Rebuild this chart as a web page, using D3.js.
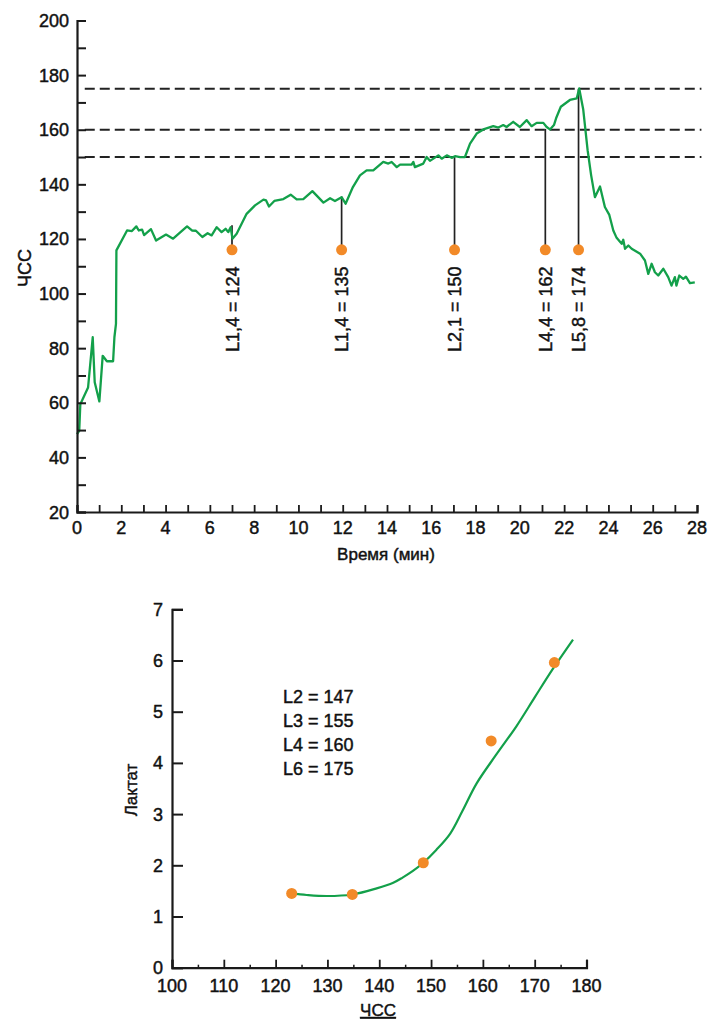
<!DOCTYPE html>
<html>
<head>
<meta charset="utf-8">
<script src="https://cdn.jsdelivr.net/npm/d3@7"></script>
<style>
  html, body { margin: 0; padding: 0; background: #ffffff; }
  svg { display: block; }
  text { font-family: "Liberation Sans", Arial, sans-serif; fill: #111; stroke: #111; stroke-width: 0.45px; }
</style>
</head>
<body>
<svg id="chart" width="710" height="1020"></svg>
<script>
// ---------- Data: top chart (heart rate vs time) ----------
const hrTime = [0,0.1,0.15,0.5,0.71,0.8,1.01,1.16,1.35,1.63,1.69,1.76,1.78,2.26,2.48,2.68,2.79,2.94,3.03,3.34,3.57,4.02,4.34,4.97,5.19,5.37,5.66,5.9,6.08,6.31,6.53,6.71,6.83,6.94,7.02,7.21,7.66,8.04,8.42,8.54,8.67,8.91,9.32,9.65,9.92,10.22,10.63,11.13,11.43,11.65,11.95,12.13,12.46,12.78,13.08,13.38,13.83,14.06,14.21,14.44,14.59,15.11,15.19,15.26,15.64,15.79,15.94,16.32,16.47,16.7,16.92,17.07,17.3,17.52,17.75,18.05,18.35,18.8,19.03,19.25,19.4,19.7,20.0,20.31,20.53,20.76,21.06,21.21,21.36,21.54,21.65,21.85,22.26,22.57,22.68,22.86,23.06,23.22,23.39,23.62,23.84,24.04,24.22,24.37,24.6,24.67,24.75,24.9,25.05,25.43,25.65,25.8,25.95,26.1,26.25,26.48,26.7,26.85,27.0,27.07,27.2,27.38,27.5,27.68,27.9];
const hrValue = [48.5,49.7,59.5,65.6,84.0,67.5,60.5,77.2,75.2,75.2,84.0,88.9,115.8,123.1,122.9,124.6,123.1,123.4,121.4,123.6,119.4,121.6,120.1,124.6,123.1,123.0,120.7,122.1,121.3,124.3,122.5,123.7,122.5,124.3,120.1,121.9,129.2,132.3,134.4,134.1,131.9,133.9,134.6,136.2,134.5,134.6,137.5,133.3,134.9,133.9,135.3,132.9,139.0,143.3,145.1,145.1,148.2,147.6,148.2,146.3,147.2,147.2,148.2,146.3,147.6,150.0,148.6,150.6,149.4,150.6,149.7,150.3,150.0,150.0,154.9,158.6,160.1,161.3,160.8,161.7,161.0,162.9,161.0,163.5,161.3,162.5,162.5,161.0,160.1,161.7,164.5,168.4,170.9,171.5,175.1,167.5,152.5,143.3,135.3,139.2,131.7,128.8,123.1,120.4,118.2,119.7,116.4,117.6,116.4,114.6,112.1,107.2,110.9,107.8,106.6,109.1,106.0,102.9,106.0,102.9,106.6,105.4,106.2,103.8,104.1];

const thresholdHR = [150, 160, 175];
const markerTime = [7.0, 11.95, 17.05, 21.15, 22.65];
const markerTop = [125, 135.5, 150, 160.3, 175];
const markerLabels = ["L1,4 = 124", "L1,4 = 135", "L2,1 = 150", "L4,4 = 162", "L5,8 = 174"];
const markerLevel = 116;

const topXTicks = [0,2,4,6,8,10,12,14,16,18,20,22,24,26,28];
const topYTicks = [20,40,60,80,100,120,140,160,180,200];

// ---------- Data: bottom chart (lactate vs heart rate) ----------
const lactHR = [123.1, 134.8, 148.5, 161.6, 173.8];
const lactValue = [1.45, 1.43, 2.05, 4.43, 5.96];
const fitHR = [123.1, 126, 129.9, 134.8, 139.5, 142.7, 144.5, 146.5, 148.5, 151, 153.7, 156, 158.8, 162.5, 166.5, 170, 173.6, 177.4];
const fitValue = [1.45, 1.42, 1.40, 1.43, 1.55, 1.66, 1.76, 1.89, 2.05, 2.3, 2.62, 3.05, 3.6, 4.15, 4.72, 5.28, 5.85, 6.41];
const noteLines = ["L2 = 147", "L3 = 155", "L4 = 160", "L6 = 175"];
const botXTicks = [100,110,120,130,140,150,160,170,180];
const botYTicks = [0,1,2,3,4,5,6,7];

const GREEN = "#13a04a";
const ORANGE = "#f28a28";
const INK = "#1a1a1a";

const svg = d3.select("#chart");

// ================= TOP CHART =================
const x1 = d3.scaleLinear().domain([0, 28]).range([77, 697]);
const y1 = d3.scaleLinear().domain([20, 200]).range([512, 20.5]);

const gTop = svg.append("g");

// dashed threshold lines
gTop.selectAll("line.thr").data(thresholdHR).enter().append("line")
  .attr("x1", x1(0.35)).attr("x2", x1(28.2))
  .attr("y1", d => y1(d)).attr("y2", d => y1(d))
  .attr("stroke", "#222").attr("stroke-width", 1.9)
  .attr("stroke-dasharray", "10,5");

// vertical drop lines
gTop.selectAll("line.drop").data(markerTime).enter().append("line")
  .attr("x1", d => x1(d)).attr("x2", d => x1(d))
  .attr("y1", y1(markerLevel)).attr("y2", (d, i) => y1(markerTop[i]))
  .attr("stroke", "#222").attr("stroke-width", 1.7);

// HR curve
const hrData = hrTime.map((t, i) => [t, hrValue[i]]);
gTop.append("path").datum(hrData)
  .attr("fill", "none").attr("stroke", GREEN).attr("stroke-width", 2.3)
  .attr("stroke-linejoin", "round")
  .attr("d", d3.line().x(d => x1(d[0])).y(d => y1(d[1])));

// markers
gTop.selectAll("circle.mk").data(markerTime).enter().append("circle")
  .attr("cx", d => x1(d)).attr("cy", y1(markerLevel)).attr("r", 5.5)
  .attr("fill", ORANGE);

// rotated labels
gTop.selectAll("text.mkl").data(markerTime).enter().append("text")
  .attr("transform", d => `translate(${x1(d) + 6.5},352) rotate(-90)`)
  .attr("text-anchor", "start")
  .style("font-size", "18px")
  .text((d, i) => markerLabels[i]);

// Y axis
const yAxis1 = d3.axisRight(y1).tickValues(d3.range(20, 201, 10)).tickSize(9).tickFormat("");
const gy1 = gTop.append("g").attr("transform", `translate(${x1(0)},0)`).call(yAxis1);
gy1.select(".domain").attr("stroke", INK).attr("stroke-width", 2.2);
gy1.selectAll(".tick line").attr("stroke", INK).attr("stroke-width", 2);
gTop.selectAll("text.ylab").data(topYTicks).enter().append("text")
  .attr("x", 69).attr("y", d => y1(d) + 6.5)
  .attr("text-anchor", "end").style("font-size", "18px")
  .text(d => d);

// X axis
const xAxis1 = d3.axisTop(x1).tickValues(d3.range(0, 29, 1)).tickSize(7).tickFormat("");
const gx1 = gTop.append("g").attr("transform", `translate(0,${y1(20)})`).call(xAxis1);
gx1.select(".domain").attr("stroke", INK).attr("stroke-width", 2.2);
gx1.selectAll(".tick line").attr("stroke", INK).attr("stroke-width", 1.8);
gTop.selectAll("text.xlab").data(topXTicks).enter().append("text")
  .attr("x", d => x1(d)).attr("y", 533.5)
  .attr("text-anchor", "middle").style("font-size", "18px")
  .text(d => d);

gTop.append("text").attr("x", 386).attr("y", 560)
  .attr("text-anchor", "middle").style("font-size", "17px")
  .text("Время (мин)");
gTop.append("text")
  .attr("transform", "translate(31,268) rotate(-90)")
  .attr("text-anchor", "middle").style("font-size", "18px")
  .text("ЧСС");

// ================= BOTTOM CHART =================
const x2 = d3.scaleLinear().domain([100, 180]).range([172, 586.5]);
const y2 = d3.scaleLinear().domain([0, 7]).range([967.7, 609.3]);
const gBot = svg.append("g");

// Y axis
const yAxis2 = d3.axisRight(y2).tickValues(botYTicks).tickSize(11).tickFormat("");
const gy2 = gBot.append("g").attr("transform", `translate(${x2(100)},0)`).call(yAxis2);
gy2.select(".domain").attr("stroke", INK).attr("stroke-width", 2.2);
gy2.selectAll(".tick line").attr("stroke", INK).attr("stroke-width", 2);
gBot.selectAll("text.ylab2").data(botYTicks).enter().append("text")
  .attr("x", 163).attr("y", d => y2(d) + 6.5)
  .attr("text-anchor", "end").style("font-size", "18px")
  .text(d => d);

// X axis
const xAxis2 = d3.axisTop(x2).tickValues(botXTicks).tickSize(8).tickFormat("");
const gx2 = gBot.append("g").attr("transform", `translate(0,${y2(0)})`).call(xAxis2);
gx2.select(".domain").attr("stroke", INK).attr("stroke-width", 2.2);
gx2.selectAll(".tick line").attr("stroke", INK).attr("stroke-width", 1.8);
const xMinor2 = d3.axisTop(x2).tickValues(d3.range(105, 180, 10)).tickSize(3).tickFormat("");
const gxm2 = gBot.append("g").attr("transform", `translate(0,${y2(0)})`).call(xMinor2);
gxm2.select(".domain").remove();
gxm2.selectAll(".tick line").attr("stroke", INK).attr("stroke-width", 1.5);
gBot.selectAll("text.xlab2").data(botXTicks).enter().append("text")
  .attr("x", d => x2(d)).attr("y", 991.5)
  .attr("text-anchor", "middle").style("font-size", "18px")
  .text(d => d);

// fit curve
const fitData = fitHR.map((h, i) => [h, fitValue[i]]);
gBot.append("path").datum(fitData)
  .attr("fill", "none").attr("stroke", GREEN).attr("stroke-width", 2.2)
  .attr("d", d3.line().curve(d3.curveCatmullRom).x(d => x2(d[0])).y(d => y2(d[1])));

// points
gBot.selectAll("circle.lp").data(lactHR).enter().append("circle")
  .attr("cx", d => x2(d)).attr("cy", (d, i) => y2(lactValue[i])).attr("r", 5.5)
  .attr("fill", ORANGE);

// notes
gBot.selectAll("text.note").data(noteLines).enter().append("text")
  .attr("x", 283).attr("y", (d, i) => 703 + i * 24)
  .style("font-size", "18px")
  .text(d => d);

// axis titles
gBot.append("text")
  .attr("transform", "translate(137,790) rotate(-90)")
  .attr("text-anchor", "middle").style("font-size", "17px")
  .text("Лактат");
gBot.append("text").attr("x", 378).attr("y", 1016)
  .attr("text-anchor", "middle").style("font-size", "17px")
  .style("text-decoration", "underline")
  .text("ЧСС");
</script>
</body>
</html>
